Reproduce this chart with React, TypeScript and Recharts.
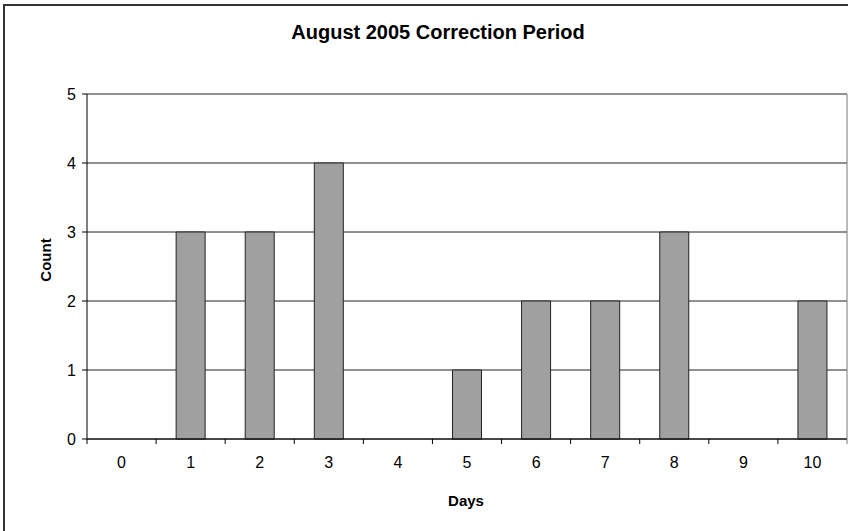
import { BarChart, Bar, XAxis, YAxis, CartesianGrid } from "recharts";

const days = ["0", "1", "2", "3", "4", "5", "6", "7", "8", "9", "10"];
const counts = [0, 3, 3, 4, 0, 1, 2, 2, 3, 0, 2];
const countTicks = [0, 1, 2, 3, 4, 5];

const data = days.map((day, i) => ({ day, count: counts[i] }));

const FONT = "'Liberation Sans', Arial, sans-serif";
const HALF_BAND = 760 / days.length / 2;

// Excel-style category axis: labels centred, tick marks on the band edges
function DayTick(props: any) {
  const { x, y, payload, index } = props;
  const axisY = y - 8; // recharts offsets y by tickSize + tickMargin
  const last = index === days.length - 1;
  return (
    <g>
      <line x1={x - HALF_BAND} x2={x - HALF_BAND} y1={axisY} y2={axisY + 5} stroke="#000" />
      {last && <line x1={x + HALF_BAND} x2={x + HALF_BAND} y1={axisY - 345} y2={axisY + 5} stroke="#777" />}
      <text x={x} y={axisY + 25} textAnchor="middle" dominantBaseline="middle" fontSize={16} fontFamily={FONT} fill="#000">
        {payload.value}
      </text>
    </g>
  );
}

export default function App() {
  return (
    <div style={{ position: "absolute", left: 0, top: 0, width: 848, height: 531, overflow: "hidden", background: "#fff" }}>
      <div style={{ position: "absolute", left: 3, top: 4, width: 900, height: 600, border: "2px solid #333" }} />
      <div style={{ position: "absolute", left: 0, width: 876, top: 21, lineHeight: "23px", textAlign: "center", font: `bold 20px ${FONT}` }}>
        August 2005 Correction Period
      </div>
      <div style={{ position: "absolute", left: 45, top: 260, transform: "translate(-50%,-50%) rotate(-90deg)", font: `bold 15px ${FONT}` }}>
        Count
      </div>
      <div style={{ position: "absolute", left: 466, top: 500, transform: "translate(-50%,-50%)", font: `bold 15px ${FONT}` }}>
        Days
      </div>
      <div style={{ position: "absolute", left: 0, top: 0 }}>
        <BarChart width={848} height={531} data={data} margin={{ top: 94, right: 1, bottom: 0, left: 0 }} barCategoryGap="29%">
          <CartesianGrid vertical={false} stroke="#222" />
          <XAxis dataKey="day" height={92} tickLine={false} axisLine={{ stroke: "#000" }} tick={<DayTick />} interval={0} />
          <YAxis
            width={87}
            domain={[0, 5]}
            ticks={countTicks}
            tickSize={5}
            tickMargin={6}
            tickLine={{ stroke: "#000" }}
            axisLine={{ stroke: "#000" }}
            tick={{ fontSize: 16, fontFamily: FONT, fill: "#000" }}
          />
          <Bar dataKey="count" fill="#a0a0a0" stroke="#222" strokeWidth={1} isAnimationActive={false} />
        </BarChart>
      </div>
    </div>
  );
}
